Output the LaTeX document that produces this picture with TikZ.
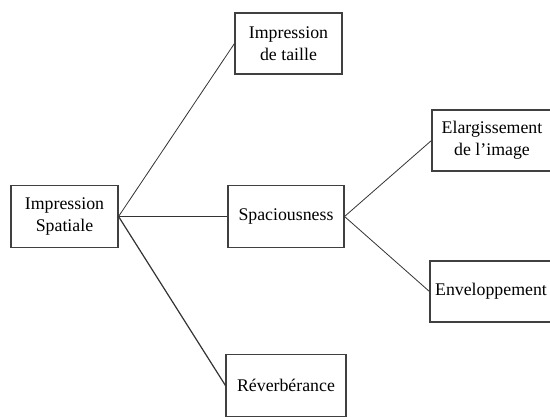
\documentclass[tikz,border=0pt]{standalone}
\usepackage{fontspec}
\setmainfont{Liberation Serif}
\usepackage{tikz}

\begin{document}
\begin{tikzpicture}[x=1pt, y=-1pt]
        \tikzset{box/.style = {shape=rectangle, draw=black!75, line width=1.1pt, fill=white,
                align=center, minimum height=62pt, inner sep=0pt,
                font=\fontsize{17.8}{22}\selectfont}}
        \tikzset{link/.style = {draw=black!80, line width=0.8pt}}
        \useasboundingbox (0,0) rectangle (550,417);
        \clip (0,0) rectangle (550,417);
        % boxes
        \node[box, minimum width=107pt] (spatiale) at (64.5,216.5) {Impression\\Spatiale};
        \node[box, minimum width=107pt, minimum height=61pt] (taille) at (288.5,43.5) {Impression\\de taille};
        \node[box, minimum width=116pt] (spacious) at (286,216.5) {Spaciousness};
        \node[box, minimum width=120pt] (reverb) at (286,385.5) {Réverbérance};
        \node[box, minimum width=120pt, minimum height=61pt] (elarg) at (492,140.5) {Elargissement\\de l’image};
        \node[box, minimum width=122pt, minimum height=61pt] (envel) at (491,291.5) {Enveloppement};
        % links
        \draw[link] (spatiale.east) to (taille.west);
        \draw[link, line width=1.6pt] (spatiale.east) to (spacious.west);
        \draw[link, line width=1.2pt] (spatiale.east) to (reverb.west);
        \draw[link] (spacious.east) to (elarg.west);
        \draw[link] (spacious.east) to (envel.west);
\end{tikzpicture}
\end{document}
